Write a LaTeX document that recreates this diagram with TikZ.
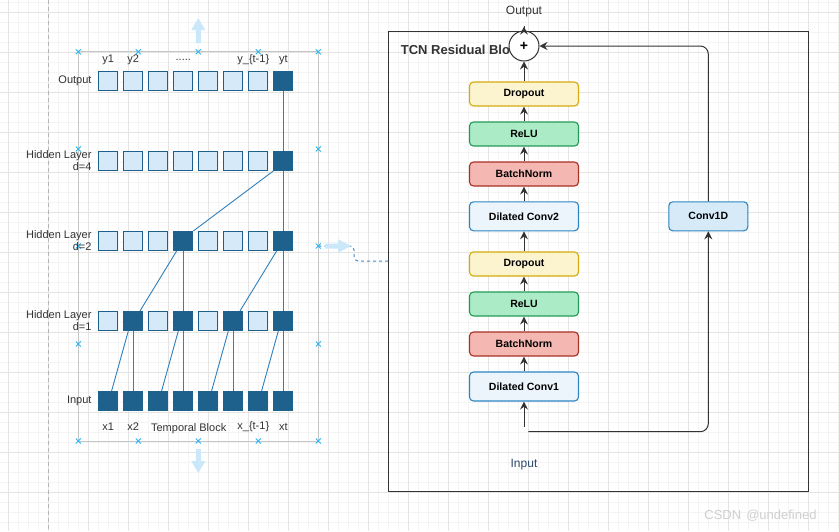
\documentclass[tikz,border=0pt]{standalone}
\usepackage{fontspec}
\setmainfont{Liberation Sans}
\usetikzlibrary{arrows.meta,calc}
\definecolor{gridminor}{HTML}{F4F4F4}
\definecolor{gridmajor}{HTML}{E4E4E4}
\definecolor{pageline}{HTML}{B4B4B4}
\definecolor{selline}{HTML}{C6C6C6}
\definecolor{handle}{HTML}{29B6F2}
\definecolor{hover}{HTML}{CBE8FA}
\definecolor{celllight}{HTML}{D6E9F8}
\definecolor{cellborder}{HTML}{1F5F8B}
\definecolor{celldark}{HTML}{1F618D}
\definecolor{linkblue}{HTML}{2E80BE}
\definecolor{txt}{HTML}{333333}
\definecolor{arrc}{HTML}{333333}
\definecolor{dropfill}{HTML}{FCF3CF}
\definecolor{dropline}{HTML}{D4AC0D}
\definecolor{relufill}{HTML}{ABEBC6}
\definecolor{reluline}{HTML}{239B56}
\definecolor{bnfill}{HTML}{F5B7B1}
\definecolor{bnline}{HTML}{A93226}
\definecolor{dcfill}{HTML}{EBF5FB}
\definecolor{dcline}{HTML}{2E86C1}
\definecolor{cofill}{HTML}{D6EAF8}
\definecolor{inputtxt}{HTML}{2E4A6B}
\definecolor{dashblue}{HTML}{3F8AC9}
\definecolor{wmark}{HTML}{CFCFCF}
\tikzset{
  minorg/.style={draw=gridminor, line width=0.6pt},
  majorg/.style={draw=gridmajor, line width=0.8pt},
  lcell/.style={draw=cellborder, fill=celllight, line width=1.1pt, minimum size=19pt, inner sep=0pt},
  dcell/.style={draw=celldark, fill=celldark, line width=1.1pt, minimum size=19pt, inner sep=0pt},
  link/.style={draw=linkblue, line width=0.9pt},
  lbl/.style={font=\fontsize{11}{12}\selectfont, text=txt, inner sep=0pt},
  blk/.style={rounded corners=4pt, minimum width=109pt, minimum height=24pt, line width=1.1pt, font=\fontsize{10.5}{12}\selectfont\bfseries, inner sep=0pt},
  arr/.style={draw=arrc, line width=1pt, -{Stealth[length=8pt,width=8pt,inset=2.8pt]}},
  hmark/.style={draw=handle, line width=0.9pt},
}
\begin{document}
\begin{tikzpicture}[x=1pt,y=-1pt]
\useasboundingbox (0,0) rectangle (839,531);
\fill[white] (0,0) rectangle (839,531);
% grid
\foreach \x in {8,18,...,838} {\draw[minorg] (\x,0) -- (\x,531);}
\foreach \y in {2,12,...,530} {\draw[minorg] (0,\y) -- (839,\y);}
\foreach \x in {8,48,...,808} {\draw[majorg] (\x,0) -- (\x,531);}
\foreach \y in {12,52,...,492} {\draw[majorg] (0,\y) -- (839,\y);}
\draw[pageline, dashed, dash pattern=on 4pt off 3pt, line width=0.8pt] (48,0) -- (48,531);
% selection frame of the temporal block
\draw[selline, line width=0.9pt] (78.3,51.7) rectangle (318.3,441);
% hover arrows
\fill[hover] (195.8,43) -- (195.8,30) -- (191.3,30) -- (198.3,18) -- (205.3,30) -- (200.8,30) -- (200.8,43) -- cycle;
\fill[hover] (195.8,449) -- (195.8,461) -- (191.3,461) -- (198.3,473) -- (205.3,461) -- (200.8,461) -- (200.8,449) -- cycle;
% dashed connector to the TCN block
\coordinate (grpE) at (318.3,246);
\node[draw=arrc, line width=1.1pt, minimum width=420pt, minimum height=460pt, inner sep=0pt, anchor=north west] (tcn) at (388.3,31.3) {};
\draw[dashblue, dashed, dash pattern=on 3pt off 3pt, line width=1pt, rounded corners=4pt] (grpE) -| (354,261) -- (tcn.west |- 0,261);
\fill[hover] (325,243.5) -- (338,243.5) -- (338,239.3) -- (351,246) -- (338,252.7) -- (338,248.5) -- (325,248.5) -- cycle;
% handles
\foreach \hx/\hy in {78.3/51.7,138.3/51.7,198.3/51.7,258.3/51.7,318.3/51.7,78.3/149,318.3/149,78.3/246,318.3/246,78.3/344,318.3/344,78.3/441,138.3/441,198.3/441,258.3/441,318.3/441}
  {\draw[hmark] (\hx-2.5,\hy-2.5) -- (\hx+2.5,\hy+2.5) (\hx-2.5,\hy+2.5) -- (\hx+2.5,\hy-2.5);}
% cells
\foreach \k in {0,...,6} {\node[lcell] (cout\k) at ({108.3+25*\k},81) {};}
\node[dcell] (cout7) at (283.3,81) {};
\foreach \k in {0,...,6} {\node[lcell] (chf\k) at ({108.3+25*\k},161) {};}
\node[dcell] (chf7) at (283.3,161) {};
\foreach \k in {0,1,2,4,5,6} {\node[lcell] (cht\k) at ({108.3+25*\k},241) {};}
\foreach \k in {3,7} {\node[dcell] (cht\k) at ({108.3+25*\k},241) {};}
\foreach \k in {0,2,4,6} {\node[lcell] (cho\k) at ({108.3+25*\k},321) {};}
\foreach \k in {1,3,5,7} {\node[dcell] (cho\k) at ({108.3+25*\k},321) {};}
\foreach \k in {0,...,7} {\node[dcell] (cin\k) at ({108.3+25*\k},401) {};}
% links
\draw[link] (cout7.south) -- (chf7.north);
\draw[link] (chf7.south west) -- (cht3.north east);
\draw[link] (chf7.south) -- (cht7.north);
\draw[link] ([xshift=-6.7pt]cht3.south) -- ([xshift=6.7pt]cho1.north);
\draw[link] (cht3.south) -- (cho3.north);
\draw[link] ([xshift=-6.7pt]cht7.south) -- ([xshift=6.7pt]cho5.north);
\draw[link] (cht7.south) -- (cho7.north);
\foreach \k/\j in {1/0,3/2,5/4,7/6} {
  \draw[link] ([xshift=-5pt]cho\k.south) -- ([xshift=3.3pt]cin\j.north);
  \draw[link] (cho\k.south) -- (cin\k.north);
}
% row labels
\node[lbl, anchor=east] (lout) at (91.7,81) {Output};
\node[lbl, anchor=east, align=right] (lhf) at (91.7,160.5) {Hidden Layer\\d=4};
\node[lbl, anchor=east, align=right] (lht) at (91.7,240.5) {Hidden Layer\\d=2};
\node[lbl, anchor=east, align=right] (lho) at (91.7,320.5) {Hidden Layer\\d=1};
\node[lbl, anchor=east] (lin) at (91.7,401) {Input};
% column labels
\node[lbl] (ty1) at (108.3,60) {y1};
\node[lbl] (ty2) at (133.3,60) {y2};
\node[lbl] (tdots) at (183.3,60) {.....};
\node[lbl] (tyt1) at (253.3,60) {y\_\{t-1\}};
\node[lbl] (tyt) at (283.3,60) {yt};
\node[lbl] (bx1) at (108.3,426.7) {x1};
\node[lbl] (bx2) at (133.3,426.7) {x2};
\node[lbl] (btb) at (188.7,429) {Temporal Block};
\node[lbl] (bxt1) at (253.3,426.7) {x\_\{t-1\}};
\node[lbl] (bxt) at (283.3,426.7) {xt};
% TCN block
\node[font=\fontsize{13}{14}\selectfont\bfseries, text=txt, anchor=west, inner sep=0pt] (title) at (400.7,50) {TCN Residual Blo};
\node[blk, fill=dropfill, draw=dropline] (dp2) at (524,94) {Dropout};
\node[blk, fill=relufill, draw=reluline] (rl2) at (524,134) {ReLU};
\node[blk, fill=bnfill, draw=bnline] (bn2) at (524,174) {BatchNorm};
\node[blk, fill=dcfill, draw=dcline, minimum height=29pt] (dc2) at (524,216.3) {Dilated Conv2};
\node[blk, fill=dropfill, draw=dropline] (dp1) at (524,264) {Dropout};
\node[blk, fill=relufill, draw=reluline] (rl1) at (524,304) {ReLU};
\node[blk, fill=bnfill, draw=bnline] (bn1) at (524,344) {BatchNorm};
\node[blk, fill=dcfill, draw=dcline, minimum height=29pt] (dc1) at (524,386.5) {Dilated Conv1};
\node[blk, fill=cofill, draw=dcline, minimum width=79pt, minimum height=29pt] (c1d) at (708.3,216.3) {Conv1D};
\node[circle, draw=arrc, fill=white, line width=1pt, minimum size=30pt, inner sep=0pt, font=\fontsize{14}{14}\selectfont\bfseries] (plus) at (524,46) {+};
\node[font=\fontsize{12}{13}\selectfont, text=txt, inner sep=0pt] (outl) at (524,12) {Output};
\node[font=\fontsize{12}{13}\selectfont, text=inputtxt, inner sep=0pt] (inl) at (524,464.3) {Input};
\coordinate (inA) at (524,426.7);
\coordinate (inB) at (528.3,431.7);
% arrows
\draw[arr] (inA) -- (dc1);
\draw[arr] (dc1) -- (bn1);
\draw[arr] (bn1) -- (rl1);
\draw[arr] (rl1) -- (dp1);
\draw[arr] (dp1) -- (dc2);
\draw[arr] (dc2) -- (bn2);
\draw[arr] (bn2) -- (rl2);
\draw[arr] (rl2) -- (dp2);
\draw[arr] (dp2) -- (plus);
\draw[arr, shorten <=-5pt, shorten >=9pt] (plus) -- (outl);
\draw[arr, rounded corners=8pt] (inB) -| (c1d);
\draw[arr, rounded corners=8pt] (c1d) |- (plus);
% watermark
\node[font=\fontsize{13}{13}\selectfont, text=wmark, inner sep=0pt] (wm) at (760.5,515.7) {CSDN\hspace{5pt}@undefined};
\end{tikzpicture}
\end{document}
